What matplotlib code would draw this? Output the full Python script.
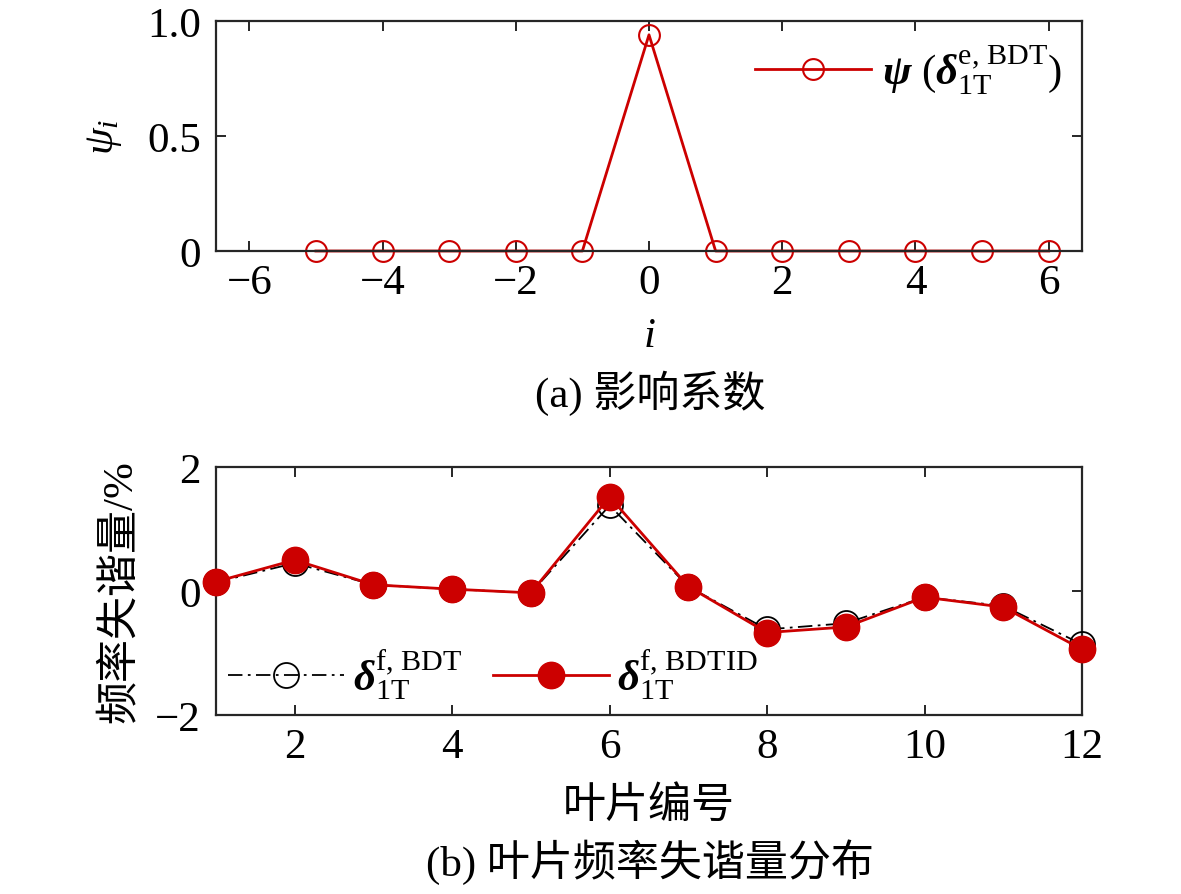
import matplotlib
matplotlib.use('Agg')
import matplotlib.pyplot as plt
import numpy as np

# data
idx_top = [-5, -4, -3, -2, -1, 0, 1, 2, 3, 4, 5, 6]
psi_vals = [0, 0, 0, 0, 0, 0.94, 0, 0, 0, 0, 0, 0]

blade = [1, 2, 3, 4, 5, 6, 7, 8, 9, 10, 11, 12]
dev_bdt = [0.14, 0.45, 0.10, 0.03, -0.03, 1.38, 0.07, -0.62, -0.52, -0.10, -0.24, -0.86]
dev_bdtid = [0.15, 0.50, 0.10, 0.03, -0.03, 1.52, 0.07, -0.67, -0.58, -0.10, -0.26, -0.94]

red = '#CC0000'
plt.rcParams['font.family'] = ['Liberation Serif', 'Noto Sans CJK SC']
plt.rcParams['mathtext.fontset'] = 'custom'
plt.rcParams['mathtext.rm'] = 'Liberation Serif'
plt.rcParams['mathtext.it'] = 'Liberation Serif:italic'
plt.rcParams['mathtext.bf'] = 'Liberation Serif:bold'
plt.rcParams['mathtext.bfit'] = 'Liberation Serif:bold:italic'
plt.rcParams['font.size'] = 31
plt.rcParams['axes.linewidth'] = 1.6
plt.rcParams['axes.edgecolor'] = '#262626'
plt.rcParams['xtick.direction'] = 'in'
plt.rcParams['ytick.direction'] = 'in'
plt.rcParams['xtick.top'] = True
plt.rcParams['ytick.right'] = True
plt.rcParams['xtick.major.size'] = 7
plt.rcParams['ytick.major.size'] = 7
plt.rcParams['xtick.major.width'] = 1.4
plt.rcParams['ytick.major.width'] = 1.4
plt.rcParams['xtick.major.pad'] = 9
plt.rcParams['ytick.major.pad'] = 11
plt.rcParams['xtick.color'] = '#262626'
plt.rcParams['ytick.color'] = '#262626'
plt.rcParams['xtick.labelcolor'] = 'black'
plt.rcParams['ytick.labelcolor'] = 'black'

fig = plt.figure(figsize=(11.81, 8.95), dpi=100)
W, H = 1181, 895

# top panel
ax1 = fig.add_axes([216/W, 1-252/H, (1082-216)/W, (252-22)/H])
ax1.plot(idx_top, psi_vals, color=red, lw=2, marker='o', ms=15, mfc='none', mec=red, mew=1.5,
         label=r'$\mathbfit{\psi}\ (\mathbfit{\delta}_{\mathrm{1T}}^{\mathrm{e,\,BDT}})$', clip_on=False)
ax1.set_xlim(-6.5, 6.5)
ax1.set_ylim(0, 1)
ax1.set_xticks([-6, -4, -2, 0, 2, 4, 6])
ax1.set_xticklabels(['\u22126', '\u22124', '\u22122', '0', '2', '4', '6'])
ax1.set_yticks([0, 0.5, 1.0])
ax1.set_yticklabels(['0', '0.5', '1.0'])
ax1.set_xlabel(r'$i$')
ax1.xaxis.set_label_coords(0.5, (252-337)/230)
ax1.xaxis.label.set_va('center')
ax1.set_ylabel(r'$\psi_i$')
ax1.yaxis.set_label_coords((105-216)/866, 0.5)
ax1.yaxis.label.set_va('center')
ax1.legend(loc='center right', frameon=False, handlelength=2.7, borderpad=0, borderaxespad=0,
           bbox_to_anchor=(1062/W, 1-70/H), bbox_transform=fig.transFigure, handletextpad=0.25)
fig.text(650/W, 1-393/H, '(a) 影响系数', ha='center', va='center')

# bottom panel
ax2 = fig.add_axes([216/W, 1-716/H, (1082-216)/W, (716-468)/H])
ax2.plot(blade, dev_bdt, color='black', lw=1.3, ls=(0, (8, 3, 1.5, 3)), marker='o', ms=18,
         mfc='none', mec='black', mew=1.3, label=r'$\mathbfit{\delta}_{\mathrm{1T}}^{\mathrm{f,\,BDT}}$',
         clip_on=False, zorder=3)
ax2.plot(blade, dev_bdtid, color=red, lw=2, marker='o', ms=19, mfc=red, mec=red,
         label=r'$\mathbfit{\delta}_{\mathrm{1T}}^{\mathrm{f,\,BDTID}}$', clip_on=False, zorder=4)
ax2.set_xlim(1, 12)
ax2.set_ylim(-2, 2)
ax2.set_xticks([2, 4, 6, 8, 10, 12])
ax2.set_yticks([-2, 0, 2])
ax2.set_yticklabels(['\u22122', '0', '2'])
ax2.set_xlabel('叶片编号')
ax2.xaxis.set_label_coords(0.5, (716-807)/248)
ax2.xaxis.label.set_va('center')
ax2.set_ylabel('频率失谐量/%')
ax2.yaxis.set_label_coords((120-216)/866, 0.5)
ax2.yaxis.label.set_va('center')
ax2.legend(loc='center left', ncol=2, frameon=False, handlelength=2.7, columnspacing=0.7,
           handletextpad=0.2, borderpad=0, borderaxespad=0,
           bbox_to_anchor=(228/W, 1-675/H), bbox_transform=fig.transFigure)
fig.text(650/W, 1-862/H, '(b) 叶片频率失谐量分布', ha='center', va='center')

fig.savefig('out.png', dpi=100)
